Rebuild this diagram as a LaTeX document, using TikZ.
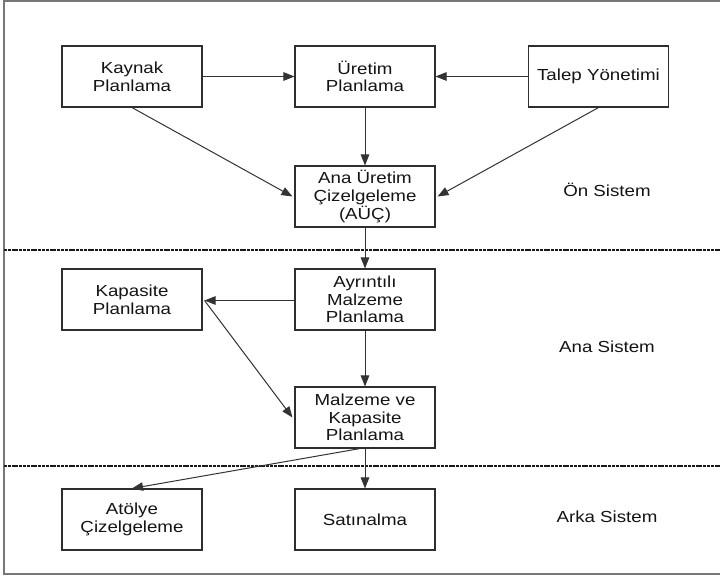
\documentclass[tikz,border=0pt]{standalone}
\usepackage{fontspec}
\setmainfont[FakeStretch=1.17]{Liberation Sans}
\usetikzlibrary{arrows.meta}
\definecolor{boxline}{HTML}{2E2E2E}
\definecolor{frameline}{HTML}{777777}
\definecolor{arrowline}{HTML}{333333}
\begin{document}
\begin{tikzpicture}[x=1pt,y=-1pt,
  every node/.style={font=\fontsize{16}{17.7}\selectfont, text=black!92},
  stage/.style={draw=boxline, line width=1.1pt, minimum width=140pt, minimum height=61pt,
                inner sep=0pt, align=center, fill=white},
  flow/.style={draw=arrowline, line width=1pt, -{Triangle[length=11pt,width=8.5pt]}},
  divider/.style={draw=black!90, line width=1.6pt, dash pattern=on 3pt off 0.8pt},
  layer/.style={align=center}]
\useasboundingbox (0,0) rectangle (720,576);
\fill[white] (0,0) rectangle (720,576);

% outer frame, open to the right
\draw[frameline, line width=1.5pt] (722,1) -- (4,1) -- (4,574) -- (722,574);

% layer dividers
\draw[divider] (4,250) -- (722,250);
\draw[divider] (4,466) -- (722,466);

% front system
\node[stage] (kaynak) at (132,76.5) {Kaynak\\Planlama};
\node[stage] (uretim) at (365,76.5) {Üretim\\Planlama};
\node[stage] (talep)  at (598.5,76.5) {Talep Yönetimi};
\node[stage] (auc)    at (365,196.5) {Ana Üretim\\Çizelgeleme\\(AÜÇ)};

% main system
\node[stage] (ayrinti)  at (365,299.5) {Ayrıntılı\\Malzeme\\Planlama};
\node[stage] (kapasite) at (132,299.5) {Kapasite\\Planlama};
\node[stage] (mkp)      at (365,417.5) {Malzeme ve\\Kapasite\\Planlama};

% back system
\node[stage] (atolye) at (132,519.5) {Atölye\\Çizelgeleme};
\node[stage] (satin)  at (365,519.5) {Satınalma};

% layer labels
\node[layer] (onsis)   at (607,190) {Ön Sistem};
\node[layer] (anasis)  at (607,347) {Ana Sistem};
\node[layer] (arkasis) at (607,517) {Arka Sistem};

% information flow
\draw[flow] (kaynak.east) -- (uretim.west);
\draw[flow] (talep.west) -- (uretim.east);
\draw[flow] (kaynak.south) -- ([xshift=-2pt]auc.west);
\draw[flow] (talep.south) -- ([xshift=2pt]auc.east);
\draw[flow] (uretim.south) -- (auc.north);
\draw[flow] (auc.south) -- (ayrinti.north);
\draw[flow] ([yshift=-1pt]ayrinti.west) -- ([xshift=2pt,yshift=-1pt]kapasite.east);
\draw[flow] ([xshift=2pt,yshift=-1pt]kapasite.east) -- ([xshift=-2pt]mkp.west);
\draw[flow] (ayrinti.south) -- (mkp.north);
\draw[flow] (mkp.south) -- (satin.north);
\draw[flow] ([xshift=-5pt]mkp.south) -- (atolye.north);
\end{tikzpicture}
\end{document}
